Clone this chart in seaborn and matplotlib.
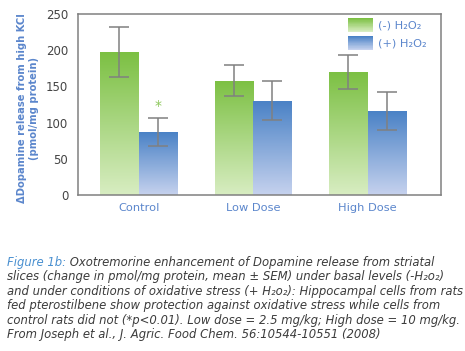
import numpy as np
import pandas as pd
import matplotlib
matplotlib.use("Agg")
import matplotlib.pyplot as plt
import seaborn as sns
from matplotlib.patches import Rectangle
from matplotlib.legend_handler import HandlerBase
from matplotlib.colors import LinearSegmentedColormap, to_rgb
from matplotlib.container import BarContainer

groups = ["Control", "Low Dose", "High Dose"]
treatments = ["(-) H₂O₂", "(+) H₂O₂"]
minus_vals = [198, 158, 170]
plus_vals = [87, 130, 116]
minus_err = [35, 21.5, 23]
plus_err = [19, 27, 27]
yticks = [0, 50, 100, 150, 200, 250]

green_top, green_bot = "#7cc043", "#d8edc2"
blue_top, blue_bot = "#4a82c6", "#c6d2ee"
label_blue = "#5b86cc"

sns.set_theme(style="white")
plt.rcParams['font.family'] = ['DejaVu Sans']

df = pd.DataFrame({
    "group": groups * 2,
    "treatment": [treatments[0]] * 3 + [treatments[1]] * 3,
    "value": minus_vals + plus_vals,
    "err": minus_err + plus_err,
})

fig = plt.figure(figsize=(4.65, 3.51), dpi=100)
ax = fig.add_axes([0.1677, 0.4453, 0.948 - 0.1677, 0.9593 - 0.4453])

sns.barplot(data=df, x="group", y="value", hue="treatment", order=groups,
            hue_order=treatments, palette=[green_top, blue_top], width=0.672,
            errorbar=None, ax=ax, legend=False, saturation=1)

def grad_cmap(top, bot):
    return LinearSegmentedColormap.from_list("g", [to_rgb(bot), to_rgb(top)])

cmaps = [grad_cmap(green_top, green_bot), grad_cmap(blue_top, blue_bot)]
grad = np.linspace(0, 1, 256).reshape(-1, 1)

bar_conts = [c for c in ax.containers if isinstance(c, BarContainer)]
for i, cont in enumerate(bar_conts):
    errs = minus_err if i == 0 else plus_err
    for j, patch in enumerate(cont):
        x0, y0 = patch.get_x(), patch.get_y()
        w, h = patch.get_width(), patch.get_height()
        patch.set_facecolor("none")
        patch.set_edgecolor("none")
        im = ax.imshow(grad, cmap=cmaps[i], origin="lower", aspect="auto",
                       extent=[x0, x0 + w, y0, y0 + h], zorder=1)
        im.set_clip_path(patch)
        ax.errorbar(x0 + w / 2, h, yerr=errs[j], color="#808080", lw=1.1,
                    capsize=7, capthick=1.1, zorder=3)
        if i == 1 and j == 0:
            ax.text(x0 + w / 2, h + errs[j] + 7, "*", color="#8cc75a",
                    ha="center", va="bottom", fontsize=10)

ax.set_xlim(-0.53, 2.64)
ax.set_ylim(0, 250)
ax.set_yticks(yticks)
ax.set_yticklabels([str(t) for t in yticks])
ax.tick_params(axis="y", direction="in", length=4, width=1, color="#808080",
               labelsize=8.5, labelcolor="#444444", pad=7)
ax.tick_params(axis="x", length=0, labelsize=8.2, labelcolor=label_blue, pad=6)
for s in ax.spines.values():
    s.set_color("#808080")
    s.set_linewidth(1.1)
ax.set_xlabel("")
ax.set_ylabel("ΔDopamine release from high KCl\n(pmol/mg protein)",
              color=label_blue, fontsize=7.2, fontweight="bold",
              linespacing=1.25)
ax.yaxis.set_label_coords(-0.108, 0.48)


class GradHandler(HandlerBase):
    def __init__(self, top, bot):
        super().__init__()
        self.top, self.bot = np.array(to_rgb(top)), np.array(to_rgb(bot))

    def create_artists(self, legend, orig_handle, xdescent, ydescent, width,
                       height, fontsize, trans):
        n = 24
        arts = []
        for k in range(n):
            f = k / (n - 1)
            c = self.bot * (1 - f) + self.top * f
            r = Rectangle((-xdescent, -ydescent + height * k / n), width,
                          height / n + 0.3, facecolor=c, edgecolor="none",
                          transform=trans)
            arts.append(r)
        return arts


h1 = Rectangle((0, 0), 1, 1)
h2 = Rectangle((0, 0), 1, 1)
leg = ax.legend([h1, h2], treatments, loc="upper right",
                bbox_to_anchor=(0.962, 0.979), frameon=False, fontsize=8.2,
                handlelength=2.2, handleheight=1.5, handletextpad=0.45,
                labelspacing=0.35, borderaxespad=0, borderpad=0,
                handler_map={h1: GradHandler(green_top, green_bot),
                             h2: GradHandler(blue_top, blue_bot)})
for t in leg.get_texts():
    t.set_color(label_blue)

cap_color = "#3c3c3c"
fs = 8.4
y0 = 1 - 262.5 / 351
dy = 14.4 / 351
t1 = fig.text(7 / 465, y0, "Figure 1b:", color="#4a90d0", fontsize=fs,
              style="italic", va="center", ha="left")
ax.annotate(" Oxotremorine enhancement of Dopamine release from striatal",
            xy=(1, 0.5), xycoords=t1, va="center", ha="left",
            color=cap_color, fontsize=fs, style="italic",
            annotation_clip=False)
rest = [
    "slices (change in pmol/mg protein, mean ± SEM) under basal levels (-H₂o₂)",
    "and under conditions of oxidative stress (+ H₂o₂): Hippocampal cells from rats",
    "fed pterostilbene show protection against oxidative stress while cells from",
    "control rats did not (*p<0.01). Low dose = 2.5 mg/kg; High dose = 10 mg/kg.",
    "From Joseph et al., J. Agric. Food Chem. 56:10544-10551 (2008)",
]
for k, line in enumerate(rest):
    fig.text(7 / 465, y0 - (k + 1) * dy, line, color=cap_color, fontsize=fs,
             style="italic", va="center", ha="left")

fig.savefig("out.png", dpi=100, facecolor="white")
